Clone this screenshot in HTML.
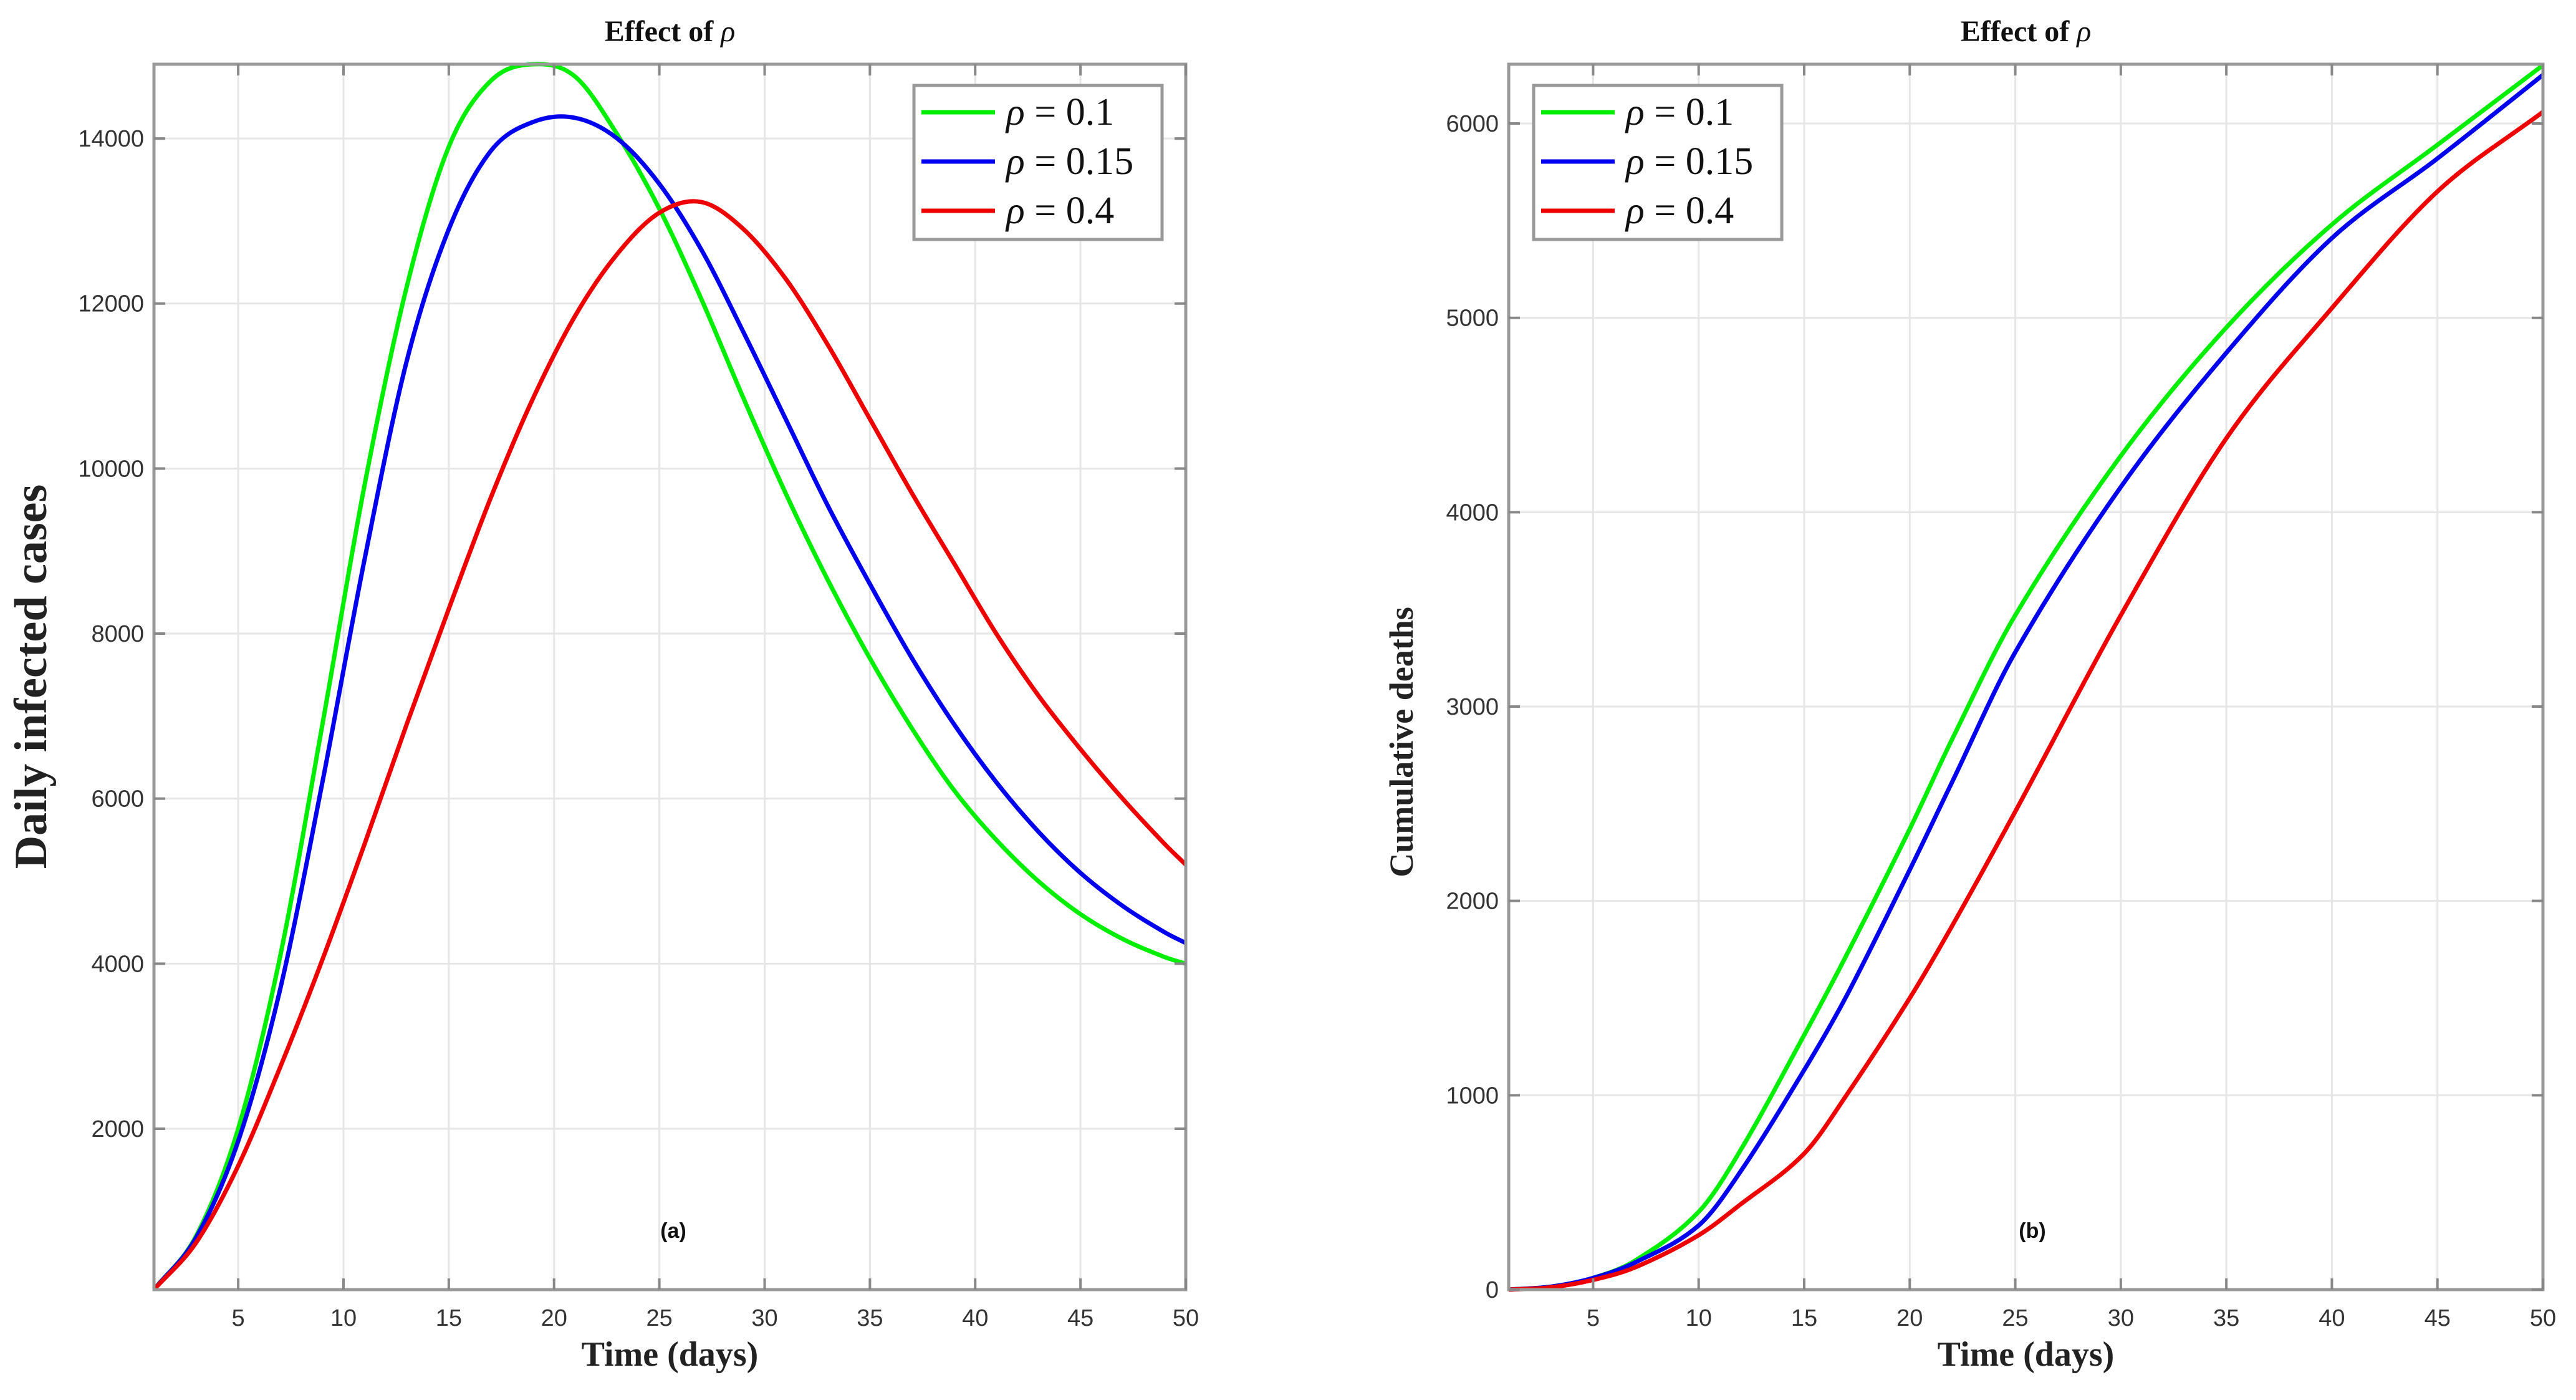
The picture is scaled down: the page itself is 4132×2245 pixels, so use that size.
<!DOCTYPE html>
<html><head><meta charset="utf-8"><style>
body{margin:0;background:#fff}
svg text{font-family:"Liberation Sans",sans-serif}
.serif{font-family:"Liberation Serif",serif}
</style></head><body>
<svg id="fig" width="4132" height="2240" viewBox="0 0 4132 2240" xmlns="http://www.w3.org/2000/svg">
<rect width="4132" height="2240" fill="#fff"/>
</svg>
<script>
// ---- Panel (a) data ----
const daysA=[1,3,5,7,9,11,13,15,17,19,21,23,25,27,29,31,33,35,37,39,41,43,45,47,49,50];
const infGreen=[50,700,2000,4100,6900,9800,12200,13900,14700,14900,14750,14050,13150,12050,10850,9700,8650,7700,6850,6100,5500,5000,4600,4300,4080,4000];
const infBlue=[50,680,1850,3700,6200,8900,11300,12900,13850,14200,14250,14000,13450,12650,11650,10600,9550,8600,7700,6900,6200,5600,5100,4700,4380,4250];
const infRed=[50,620,1550,2750,4050,5450,6900,8300,9650,10850,11850,12600,13100,13230,12900,12300,11500,10600,9700,8850,8000,7250,6600,6000,5450,5200];
const ticksXA=[5,10,15,20,25,30,35,40,45,50];
const ticksYA=[2000,4000,6000,8000,10000,12000,14000];
// ---- Panel (b) data ----
const daysB=[1,3,5,7,10,12,15,17,20,22,25,30,35,40,45,50];
const dGreen=[0,15,60,150,400,720,1310,1720,2370,2830,3470,4290,4950,5480,5890,6300];
const dBlue=[0,15,60,140,330,610,1130,1510,2160,2610,3280,4130,4820,5410,5820,6250];
const dRed=[0,12,50,115,280,440,700,1000,1500,1870,2460,3470,4380,5050,5650,6060];
const ticksXB=[5,10,15,20,25,30,35,40,45,50];
const ticksYB=[0,1000,2000,3000,4000,5000,6000];
const legendValues=["0.1","0.15","0.4"];
const colors=["#00ee00","#0000ee","#ee0000"];

const NS="http://www.w3.org/2000/svg";
const svg=document.getElementById('fig');
function mk(tag,attrs,parent){const e=document.createElementNS(NS,tag);for(const k in attrs)e.setAttribute(k,attrs[k]);(parent||svg).appendChild(e);return e;}
function smooth(pts){let d=`M${pts[0][0]},${pts[0][1]}`;for(let i=0;i<pts.length-1;i++){const p0=pts[Math.max(0,i-1)],p1=pts[i],p2=pts[i+1],p3=pts[Math.min(pts.length-1,i+2)];
  const h=p2[0]-p1[0];const m1=(p2[1]-p0[1])/(p2[0]-p0[0]||1),m2=(p3[1]-p1[1])/(p3[0]-p1[0]||1);
  const c1=[p1[0]+h/3,p1[1]+m1*h/3],c2=[p2[0]-h/3,p2[1]-m2*h/3];
  d+=`C${c1[0].toFixed(1)},${c1[1].toFixed(1)} ${c2[0].toFixed(1)},${c2[1].toFixed(1)} ${p2[0].toFixed(1)},${p2[1].toFixed(1)}`;}return d;}

function panel(o){
  const g=mk('g',{});
  
  
  const X=v=>o.L+(v-o.xmin)/(o.xmax-o.xmin)*(o.R-o.L);
  const Y=v=>o.B-(v-o.ymin)/(o.ymax-o.ymin)*(o.B-o.T);
  o.tx.forEach(t=>{const l=mk('line',{x1:X(t),x2:X(t),y1:o.T,y2:o.B,stroke:'#e6e6e6','stroke-width':3},g);});
  o.ty.forEach(t=>{const l=mk('line',{x1:o.L,x2:o.R,y1:Y(t),y2:Y(t),stroke:'#e6e6e6','stroke-width':3},g);});
  o.series.forEach((s,i)=>{const p=mk('path',{d:smooth(o.x.map((v,j)=>[X(v),Y(s[j])])),fill:'none',stroke:colors[i],'stroke-width':7,'stroke-linejoin':'round'},g);});
  const box=mk('rect',{x:o.L,y:o.T,width:o.R-o.L,height:o.B-o.T,fill:'none',stroke:'#999','stroke-width':5},g);
  
  o.tx.forEach(t=>{mk('line',{x1:X(t),x2:X(t),y1:o.B,y2:o.B-18,stroke:'#888','stroke-width':4},g);mk('line',{x1:X(t),x2:X(t),y1:o.T,y2:o.T+18,stroke:'#888','stroke-width':4},g);
    const tl=mk('text',{x:X(t),y:o.B+58,'text-anchor':'middle','font-size':38,fill:'#333'},g);tl.textContent=t;});
  o.ty.forEach(t=>{mk('line',{x1:o.L,x2:o.L+18,y1:Y(t),y2:Y(t),stroke:'#888','stroke-width':4},g);mk('line',{x1:o.R,x2:o.R-18,y1:Y(t),y2:Y(t),stroke:'#888','stroke-width':4},g);
    const tl=mk('text',{x:o.L-16,y:Y(t)+13,'text-anchor':'end','font-size':38,fill:'#333'},g);tl.textContent=t;});
  const tt=mk('text',{x:(o.L+o.R)/2,y:66,'text-anchor':'middle','font-size':48,'font-weight':'bold',fill:'#111',class:'serif'},g);tt.innerHTML='Effect of <tspan font-style="italic" font-weight="normal">\u03C1</tspan>';
  const xl=mk('text',{x:(o.L+o.R)/2,y:2190,'text-anchor':'middle','font-size':56,'font-weight':'bold',fill:'#222',class:'serif'},g);xl.textContent='Time (days)';
  const yl=mk('text',{x:o.ylx,y:o.ylc,'text-anchor':'middle','font-size':o.yls,'font-weight':'bold',fill:'#222',class:'serif',transform:`rotate(-90 ${o.ylx} ${o.ylc})`},g);yl.textContent=o.ylabel;
  const pl=mk('text',{x:o.plx,y:1985,'text-anchor':'middle','font-size':34,'font-weight':'bold',fill:'#111'},g);pl.textContent=o.plabel;
  const lg=mk('g',{},g);
  mk('rect',{x:o.lgx,y:137,width:398,height:247,fill:'#fff',stroke:'#999','stroke-width':5},lg);
  legendValues.forEach((lab,i)=>{const yy=180+i*79;
    const e=mk('g',{},lg);
    mk('line',{x1:o.lgx+12,x2:o.lgx+130,y1:yy,y2:yy,stroke:colors[i],'stroke-width':7},e);
    const t=mk('text',{x:o.lgx+148,y:yy+20,'font-size':62,fill:'#111',class:'serif'},e);t.innerHTML='<tspan font-style="italic">\u03C1</tspan> = '+lab;});
}
panel({name:'panel-a-daily-infected',L:247,R:1902,T:103,B:2068,xmin:1,xmax:50,ymin:50,ymax:14900,tx:ticksXA,ty:ticksYA,x:daysA,series:[infGreen,infBlue,infRed],ylabel:'Daily infected cases',ylx:74,ylc:1085,yls:74,plabel:'(a)',plx:1080,lgx:1466});
panel({name:'panel-b-cumulative-deaths',L:2420,R:4079,T:103,B:2068,xmin:1,xmax:50,ymin:0,ymax:6305,tx:ticksXB,ty:ticksYB,x:daysB,series:[dGreen,dBlue,dRed],ylabel:'Cumulative deaths',ylx:2266,ylc:1190,yls:54,plabel:'(b)',plx:3260,lgx:2460});
</script>
</body></html>
